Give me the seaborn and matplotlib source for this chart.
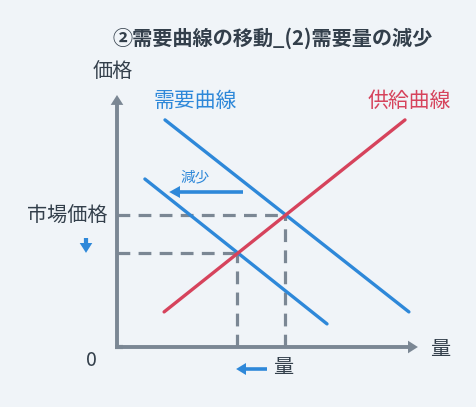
import numpy as np
import pandas as pd
import matplotlib
matplotlib.use('Agg')
import matplotlib.pyplot as plt
import seaborn as sns

# Curve endpoints (quantity, price)
supply_q = [1.57, 9.6]
supply_p = [1.17, 7.57]
demand_q = [1.6, 9.73]
demand_p = [7.57, 1.17]
demand2_q = [0.93, 7.0]
demand2_p = [5.6, 0.77]

# Equilibrium points: before / after the shift
eq_q = [5.6, 4.0]
eq_p = [4.4, 3.15]

curve_names = ['需要曲線', '需要曲線2', '供給曲線']

BG = '#f0f4f8'
BLUE = '#2e88d9'
RED = '#d6435c'
GRAY = '#7b8794'
TEXT = '#333f4b'

sns.set_theme(style='white', rc={'axes.facecolor': BG, 'figure.facecolor': BG})
plt.rcParams['font.family'] = ['Noto Sans CJK JP', 'DejaVu Sans']

df = pd.DataFrame({
    'q': demand_q + demand2_q + supply_q,
    'p': demand_p + demand2_p + supply_p,
    'curve': [curve_names[0]] * 2 + [curve_names[1]] * 2 + [curve_names[2]] * 2,
})

fig = plt.figure(figsize=(4.76, 4.07), dpi=100)
ax = fig.add_axes([0, 0, 1, 1])

# 30 px per unit, origin at pixel (117, 347)
S = 30.0
OX, OY = 117, 347
ax.set_xlim(-OX / S, (476 - OX) / S)
ax.set_ylim(-(407 - OY) / S, OY / S)
ax.axis('off')


def px(x, y):
    return (x - OX) / S, (OY - y) / S


# dashed guides
for q, p in zip(eq_q, eq_p):
    ax.plot([0, q], [p, p], color=GRAY, lw=2.3, dashes=(4, 2.6), zorder=1)
    ax.plot([q, q], [0, p], color=GRAY, lw=2.3, dashes=(4, 2.6), zorder=1)

sns.lineplot(data=df, x='q', y='p', hue='curve', units='curve', estimator=None,
             palette={curve_names[0]: BLUE, curve_names[1]: BLUE, curve_names[2]: RED},
             lw=2.4, legend=False, ax=ax, zorder=3, sort=False)
for ln in ax.get_lines()[-3:]:
    ln.set_solid_capstyle('round')

# axes with arrowheads
ax.arrow(0, 0, 0, 8.4 - 0.33, width=0.13, head_width=0.42, head_length=0.33,
         length_includes_head=False, color=GRAY, lw=0, zorder=2)
ax.arrow(0, 0, 10.03 - 0.33, 0, width=0.13, head_width=0.42, head_length=0.33,
         length_includes_head=False, color=GRAY, lw=0, zorder=2)
ax.plot([-0.065, 0.2], [0, 0], color=GRAY, lw=3, solid_capstyle='butt', zorder=2)

# shift arrows
x0, y0 = px(243, 192)
x1, _ = px(180, 192)
ax.arrow(x0, y0, x1 - x0, 0, width=0.12, head_width=0.4, head_length=0.36,
         color=BLUE, lw=0, zorder=4)
x0, y0 = px(267, 369)
x1, _ = px(246, 369)
ax.arrow(x0, y0, x1 - x0, 0, width=0.12, head_width=0.4, head_length=0.33,
         color=BLUE, lw=0, zorder=4)
x0, y0 = px(86, 238)
_, y1 = px(86, 243)
ax.arrow(x0, y0, 0, y1 - y0, width=0.14, head_width=0.42, head_length=0.33,
         color=BLUE, lw=0, zorder=4)

# texts
ax.text(*px(273, 38), '②需要曲線の移動_(2)需要量の減少', ha='center', va='center',
        fontsize=14.5, fontweight='bold', color=TEXT)
ax.text(*px(113, 72), '価格', ha='center', va='center', fontsize=14.5, color=TEXT)
ax.text(*px(195, 101), curve_names[0], ha='center', va='center', fontsize=15, color=BLUE)
ax.text(*px(409, 101), curve_names[2], ha='center', va='center', fontsize=15, color=RED)
ax.text(*px(195, 177), '減少', ha='center', va='center', fontsize=10.5, color=BLUE)
ax.text(*px(107, 216), '市場価格', ha='right', va='center', fontsize=14.5, color=TEXT)
ax.text(*px(91, 361), '0', ha='center', va='center', fontsize=14, color=TEXT)
ax.text(*px(440, 349), '量', ha='center', va='center', fontsize=14.5, color=TEXT)
ax.text(*px(283, 368), '量', ha='center', va='center', fontsize=14.5, color=TEXT)

fig.savefig('out.png', dpi=100, facecolor=BG)
